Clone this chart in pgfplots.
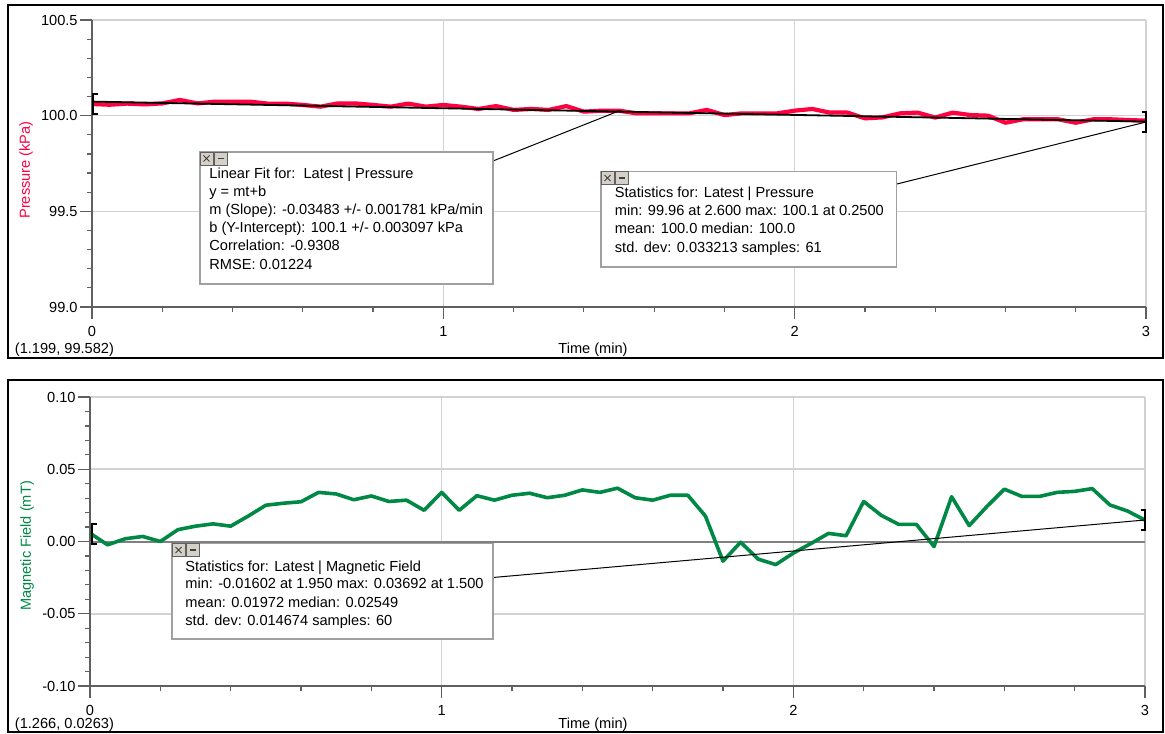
\documentclass[border=0pt]{standalone}
\usepackage{fontspec}
\setmainfont{Liberation Sans}
\usepackage{pgfplots}
\usepackage{pgfplotstable}
\pgfplotsset{compat=1.18}

\definecolor{pres}{RGB}{255,0,64}
\definecolor{mag}{RGB}{0,136,68}
\definecolor{axgray}{RGB}{96,96,96}
\definecolor{gridgray}{RGB}{210,210,210}
\definecolor{boxgray}{RGB}{160,160,160}
\definecolor{btn}{RGB}{212,208,200}
\newcommand{\sm}{\fontsize{7.3}{9}\selectfont}

% pressure, kPa, one sample every 0.05 min
\pgfplotstableread{
t p
0    100.061
0.05 100.057
0.1  100.063
0.15 100.059
0.2  100.064
0.25 100.082
0.3  100.064
0.35 100.073
0.4  100.073
0.45 100.073
0.5  100.063
0.55 100.063
0.6  100.056
0.65 100.047
0.7  100.064
0.75 100.064
0.8  100.056
0.85 100.047
0.9  100.063
0.95 100.047
1.0  100.056
1.05 100.047
1.1  100.035
1.15 100.050
1.2  100.030
1.25 100.035
1.3  100.030
1.35 100.050
1.4  100.021
1.45 100.026
1.5  100.026
1.55 100.012
1.6  100.012
1.65 100.012
1.7  100.012
1.75 100.030
1.8  100.003
1.85 100.012
1.9  100.012
1.95 100.012
2.0  100.026
2.05 100.035
2.1  100.016
2.15 100.016
2.2  99.986
2.25 99.991
2.3  100.012
2.35 100.016
2.4  99.990
2.45 100.016
2.5  100.003
2.55 100.000
2.6  99.963
2.65 99.981
2.7  99.981
2.75 99.981
2.8  99.963
2.85 99.981
2.9  99.981
2.95 99.977
3.0  99.974
}\presdata

% magnetic field, mT
\pgfplotstableread{
t b
0    0.0058
0.05 -0.0023
0.1  0.0019
0.15 0.0035
0.2  0.0000
0.25 0.0082
0.3  0.0106
0.35 0.0122
0.4  0.0106
0.45 0.0176
0.5  0.0251
0.55 0.0265
0.6  0.0275
0.65 0.0340
0.7  0.0329
0.75 0.0289
0.8  0.0315
0.85 0.0277
0.9  0.0286
0.95 0.0216
1.0  0.0340
1.05 0.0216
1.1  0.0317
1.15 0.0286
1.2  0.0320
1.25 0.0334
1.3  0.0303
1.35 0.0320
1.4  0.0357
1.45 0.0340
1.5  0.0369
1.55 0.0303
1.6  0.0286
1.65 0.0320
1.7  0.0320
1.75 0.0176
1.8  -0.0136
1.85 -0.0005
1.9  -0.0122
1.95 -0.0160
2.0  -0.0080
2.05 -0.0014
2.1  0.0056
2.15 0.0040
2.2  0.0277
2.25 0.0181
2.3  0.0118
2.35 0.0118
2.4  -0.0035
2.45 0.0310
2.5  0.0110
2.55 0.0241
2.6  0.0362
2.65 0.0312
2.7  0.0312
2.75 0.0340
2.8  0.0347
2.85 0.0366
2.9  0.0253
2.95 0.0211
3.0  0.0148
}\magdata

\pgfplotsset{
  lp/.style={
    scale only axis,
    anchor=south west,
    xmin=0, xmax=3,
    axis lines=left,
    axis line style={-, draw=axgray, line width=1pt},
    tick align=outside,
    major tick length=6pt, minor tick length=2.5pt,
    tick style={draw=axgray, line width=0.6pt},
    grid=major,
    major grid style={draw=gridgray, line width=0.8pt},
    xtick={0,1,2,3}, xticklabels={0,1,2,3},
    minor x tick num=4, minor y tick num=4,
    ticklabel style={font=\sm, text=black},
    yticklabel style={inner xsep=1pt},
    clip=false,
  }
}

\begin{document}
\begin{tikzpicture}
\useasboundingbox (0,0) rectangle (582.5pt,366.5pt);

% top panel: pressure
\begin{axis}[lp,
  at={(46pt,213pt)}, width=527pt, height=143.5pt,
  ymin=99, ymax=100.5,
  ytick={99,99.5,100,100.5}, yticklabels={99.0,99.5,100.0,100.5},
]
\addplot[pres, line width=2.1pt, line join=round] table[x=t, y=p] {\presdata};
\addplot[black, line width=0.9pt] coordinates {(0,100.0735) (3,99.969)};
\end{axis}

% bottom panel: magnetic field
\begin{axis}[lp,
  at={(45pt,23.5pt)}, width=527.5pt, height=144.5pt,
  ymin=-0.1, ymax=0.1,
  ytick={-0.1,-0.05,0,0.05,0.1}, yticklabels={-0.10,-0.05,0.00,0.05,0.10},
]
\addplot[axgray!80, line width=1pt] coordinates {(0,0) (3,0)};
\addplot[mag, line width=1.8pt, line join=round] table[x=t, y=b] {\magdata};
\end{axis}

% annotations, in pixel units of the reference (origin top left)
\begin{scope}[x=0.5pt, y=-0.5pt, shift={(0pt,366.5pt)}]
  % panel frames
  \draw[line width=1pt] (8,5) rectangle (1163,358);
  \draw[line width=1pt] (8,380.5) rectangle (1163,731.5);

  % selection brackets
  \draw[line width=1.4pt] (97.5,94) -- (93,94) -- (93,114) -- (97.5,114);
  \draw[line width=1.4pt] (1141.5,112) -- (1146,112) -- (1146,132) -- (1141.5,132);
  \draw[line width=1.4pt] (96.5,524) -- (92,524) -- (92,544) -- (96.5,544);
  \draw[line width=1.4pt] (1140.5,510) -- (1145,510) -- (1145,530) -- (1140.5,530);

  % leader lines
  \draw[line width=0.5pt] (493,161) -- (620,110.5);
  \draw[line width=0.5pt] (897,184) -- (1146,122);
  \draw[line width=0.5pt] (493,577.5) -- (1145,520);

  % linear fit box
  \draw[boxgray, fill=white, line width=0.6pt] (200,152) rectangle (493,284);
  \draw[axgray, fill=btn, line width=0.4pt] (200,152) rectangle ++(13,13);
  \draw[axgray, fill=btn, line width=0.4pt] (214,152) rectangle ++(13,13);
  \draw[black!75, line width=0.45pt] (203.5,155.5) -- ++(6,6) (203.5,161.5) -- ++(6,-6);
  \draw[black!75, line width=0.6pt] (217.5,158.5) -- ++(6,0);
  \node[font=\sm, anchor=base west, inner sep=0pt] at (209,179) {Linear Fit for:\ \ Latest | Pressure};
  \node[font=\sm, anchor=base west, inner sep=0pt] at (209,197) {y = mt+b};
  \node[font=\sm, anchor=base west, inner sep=0pt] at (209,215) {m (Slope): -0.03483 +/- 0.001781 kPa/min};
  \node[font=\sm, anchor=base west, inner sep=0pt] at (209,233) {b (Y-Intercept): 100.1 +/- 0.003097 kPa};
  \node[font=\sm, anchor=base west, inner sep=0pt] at (209,251) {Correlation: -0.9308};
  \node[font=\sm, anchor=base west, inner sep=0pt] at (209,270) {RMSE: 0.01224};

  % pressure statistics box
  \draw[boxgray, fill=white, line width=0.6pt] (601,171.5) rectangle (896.5,267);
  \draw[axgray, fill=btn, line width=0.4pt] (601,171.5) rectangle ++(13,13);
  \draw[axgray, fill=btn, line width=0.4pt] (615,171.5) rectangle ++(13,13);
  \draw[black!75, line width=0.45pt] (604.5,175) -- ++(6,6) (604.5,181) -- ++(6,-6);
  \draw[black!75, line width=0.6pt] (618.5,178) -- ++(6,0);
  \node[font=\sm, anchor=base west, inner sep=0pt] at (614.5,198) {Statistics for: Latest | Pressure};
  \node[font=\sm, anchor=base west, inner sep=0pt] at (614.5,216) {min: 99.96 at 2.600 max: 100.1 at 0.2500};
  \node[font=\sm, anchor=base west, inner sep=0pt] at (614.5,234) {mean: 100.0 median: 100.0};
  \node[font=\sm, anchor=base west, inner sep=0pt] at (614.5,252.5) {std. dev: 0.033213 samples: 61};

  % magnetic field statistics box
  \draw[boxgray, fill=white, line width=0.6pt] (172,543.5) rectangle (493,639);
  \draw[axgray, fill=btn, line width=0.4pt] (172,543.5) rectangle ++(13,13);
  \draw[axgray, fill=btn, line width=0.4pt] (186,543.5) rectangle ++(13,13);
  \draw[black!75, line width=0.45pt] (175.5,547) -- ++(6,6) (175.5,553) -- ++(6,-6);
  \draw[black!75, line width=0.6pt] (189.5,550) -- ++(6,0);
  \node[font=\sm, anchor=base west, inner sep=0pt] at (185,571) {Statistics for: Latest | Magnetic Field};
  \node[font=\sm, anchor=base west, inner sep=0pt] at (185,588.5) {min: -0.01602 at 1.950 max: 0.03692 at 1.500};
  \node[font=\sm, anchor=base west, inner sep=0pt] at (185,607) {mean: 0.01972 median: 0.02549};
  \node[font=\sm, anchor=base west, inner sep=0pt] at (185,625) {std. dev: 0.014674 samples: 60};

  % axis labels and cursor readouts
  \node[font=\sm, text=pres, rotate=90, inner sep=0pt] at (26,170) {Pressure (kPa)};
  \node[font=\sm, text=mag, rotate=90, inner sep=0pt] at (27,546) {Magnetic Field (mT)};
  \node[font=\sm, anchor=base, inner sep=0pt] at (593,354) {Time (min)};
  \node[font=\sm, anchor=base, inner sep=0pt] at (593,728) {Time (min)};
  \node[font=\sm, anchor=base west, inner sep=0pt] at (14.5,354) {(1.199, 99.582)};
  \node[font=\sm, anchor=base west, inner sep=0pt] at (14.5,728) {(1.266, 0.0263)};
\end{scope}
\end{tikzpicture}
\end{document}
